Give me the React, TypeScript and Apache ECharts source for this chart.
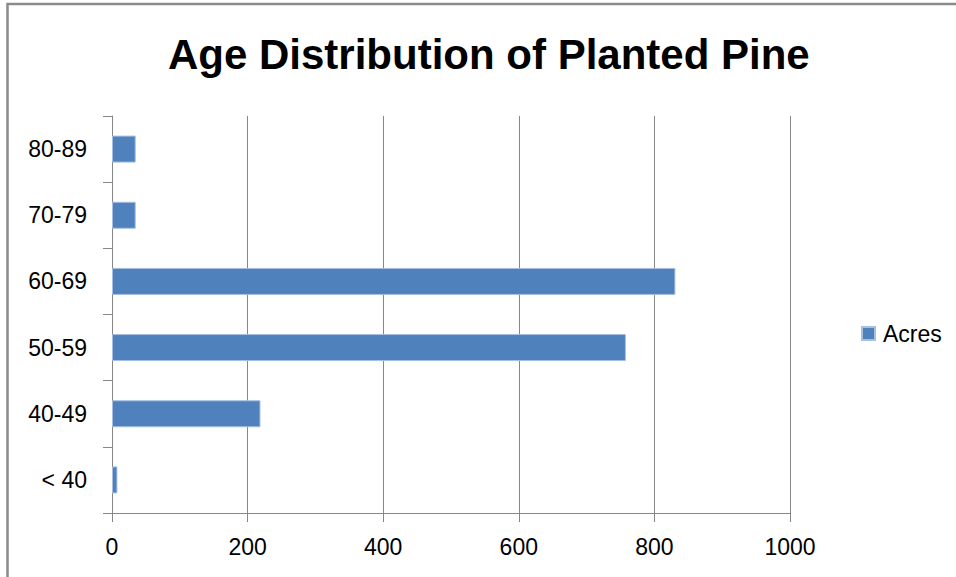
import React, { useEffect, useRef } from "react";
import * as echarts from "echarts";

const TITLE = "Age Distribution of Planted Pine";
const CATEGORIES = ["< 40", "40-49", "50-59", "60-69", "70-79", "80-89"];
const ACRES = [8, 219, 758, 831, 35, 35];
const SERIES_NAME = "Acres";
const X_MIN = 0;
const X_MAX = 1000;
const X_INTERVAL = 200;

const FONT = "'Liberation Sans', Arial, sans-serif";
const AXIS_GRAY = "#878787";

export default function App() {
  const ref = useRef<HTMLDivElement>(null);

  useEffect(() => {
    if (!ref.current) return;
    const chart = echarts.init(ref.current, null, { renderer: "svg" });
    chart.setOption({
      animation: false,
      backgroundColor: "#ffffff",
      textStyle: { fontFamily: FONT },
      title: {
        text: TITLE,
        left: 168,
        top: 33,
        padding: 0,
        textStyle: { fontFamily: FONT, fontSize: 42, fontWeight: "bold", color: "#000" },
      },
      legend: {
        data: [SERIES_NAME],
        left: 861,
        top: 322,
        padding: 0,
        itemWidth: 13,
        itemHeight: 13,
        icon: "rect",
        textStyle: { fontFamily: FONT, fontSize: 23, color: "#000", padding: [0, 0, 0, 3] },
      },
      grid: { left: 112, right: 166, top: 116, bottom: 64, containLabel: false },
      xAxis: {
        type: "value",
        min: X_MIN,
        max: X_MAX,
        interval: X_INTERVAL,
        axisLine: { show: true, lineStyle: { color: AXIS_GRAY, width: 1 } },
        axisTick: { show: true, length: 9, lineStyle: { color: AXIS_GRAY } },
        axisLabel: {
          fontFamily: FONT,
          fontSize: 23,
          color: "#000",
          margin: 22,
          formatter: (v: number) => String(v),
        },
        splitLine: { show: true, lineStyle: { color: AXIS_GRAY, width: 1 } },
      },
      yAxis: {
        type: "category",
        data: CATEGORIES,
        axisLine: { show: true, lineStyle: { color: AXIS_GRAY, width: 1 } },
        axisTick: { show: true, length: 9, alignWithLabel: false, lineStyle: { color: AXIS_GRAY } },
        axisLabel: { fontFamily: FONT, fontSize: 23, color: "#000", margin: 25 },
        splitLine: { show: false },
      },
      series: [
        {
          name: SERIES_NAME,
          type: "bar",
          data: ACRES,
          barWidth: 27,
          itemStyle: { color: "#4F81BD", borderColor: "#A7BFE0", borderWidth: 1 },
        },
      ],
      graphic: [
        {
          type: "rect",
          shape: { x: 7.5, y: 4, width: 1200, height: 1000 },
          style: { fill: "none", stroke: "#8a8a8a", lineWidth: 2.5 },
          silent: true,
          z: 100,
        },
      ],
    });
    return () => chart.dispose();
  }, []);

  return (
    <div
      ref={ref}
      style={{ position: "fixed", left: 0, top: 0, width: 956, height: 577 }}
    />
  );
}
